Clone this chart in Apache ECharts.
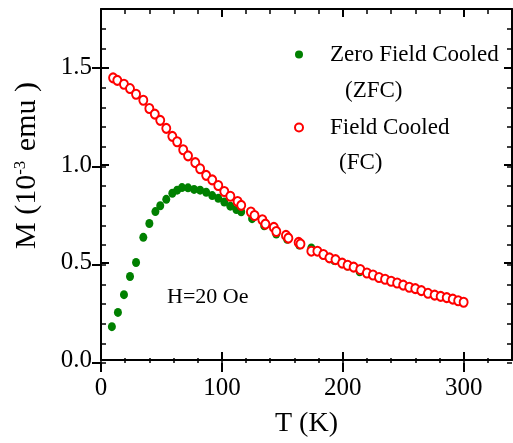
<!DOCTYPE html>
<html><head><meta charset="utf-8">
<script src="https://cdn.jsdelivr.net/npm/echarts@6/dist/echarts.min.js"></script>
<style>html,body{margin:0;padding:0;background:#fff}#c{width:513px;height:443px}</style>
</head><body><div id="c"></div>
<script>
// Zero Field Cooled (ZFC)
const zfcT = [9, 14, 19, 24, 29, 35, 40, 45, 49, 54, 59, 63, 67, 72, 77, 82, 87, 92, 97, 102, 107, 112, 116, 125, 135, 145, 154, 164, 174, 184, 193, 204, 214];
const zfcM = [0.171, 0.244, 0.335, 0.428, 0.500, 0.629, 0.700, 0.761, 0.791, 0.824, 0.855, 0.871, 0.884, 0.883, 0.875, 0.871, 0.860, 0.843, 0.829, 0.810, 0.789, 0.772, 0.760, 0.725, 0.688, 0.646, 0.619, 0.590, 0.575, 0.538, 0.510, 0.482, 0.452];
// Field Cooled (FC)
const fcT = [10, 13.5, 19, 24, 29, 35, 40, 44.5, 49, 54, 59, 63, 68, 72, 78, 82, 87, 92, 97, 102, 107, 113, 116, 124, 127, 133.5, 136, 143, 145, 153, 155, 163.5, 165, 174, 179, 184, 189, 194, 199.5, 204, 209, 214.5, 220, 225, 230, 235, 240, 245, 250, 255, 260, 265, 270.5, 276, 281, 286, 291, 295.5, 300];
const fcM = [1.447, 1.434, 1.414, 1.392, 1.363, 1.332, 1.290, 1.261, 1.229, 1.188, 1.147, 1.119, 1.078, 1.047, 1.012, 0.981, 0.947, 0.924, 0.895, 0.864, 0.840, 0.813, 0.793, 0.759, 0.741, 0.719, 0.697, 0.680, 0.659, 0.639, 0.625, 0.603, 0.595, 0.558, 0.558, 0.541, 0.524, 0.515, 0.497, 0.486, 0.476, 0.464, 0.446, 0.436, 0.423, 0.414, 0.404, 0.395, 0.384, 0.373, 0.366, 0.356, 0.342, 0.333, 0.326, 0.320, 0.312, 0.304, 0.296];
// tick values
const xMajor = [0, 100, 200, 300];
const yMajor = [0, 0.5, 1.0, 1.5];
const xMinor = [0, 20, 40, 60, 80, 100, 120, 140, 160, 180, 200, 220, 240, 260, 280, 300, 320];
const yMinor = [0, 0.1, 0.2, 0.3, 0.4, 0.5, 0.6, 0.7, 0.8, 0.9, 1.0, 1.1, 1.2, 1.3, 1.4, 1.5, 1.6, 1.7];

const FONT = 'Liberation Serif';
const BLACK = '#000';
const gridRect = {left: 101, top: 9, right: 1, bottom: 80};

function xa(grid, pos, opts) {
  return Object.assign({
    gridIndex: grid, type: 'value', min: 0, max: 340, position: pos,
    axisLine: {show: false, onZero: false, lineStyle: {color: BLACK, width: 2}},
    axisTick: {show: false},
    axisLabel: {show: false},
    splitLine: {show: false}
  }, opts);
}
function ya(grid, pos, opts) {
  return Object.assign({
    gridIndex: grid, type: 'value', min: 0, max: 1.8, position: pos,
    axisLine: {show: false, onZero: false, lineStyle: {color: BLACK, width: 2}},
    axisTick: {show: false},
    axisLabel: {show: false},
    splitLine: {show: false}
  }, opts);
}
const tick = (vals, inside, len, w) => ({show: true, inside: inside, length: len, customValues: vals, lineStyle: {color: BLACK, width: w}});
const line = {show: true, onZero: false, lineStyle: {color: BLACK, width: 2}};

const chart = echarts.init(document.getElementById('c'), null, {renderer: 'canvas'});
chart.setOption({
  animation: false,
  backgroundColor: '#fff',
  textStyle: {fontFamily: FONT, color: BLACK},
  grid: [Object.assign({}, gridRect), Object.assign({}, gridRect), Object.assign({}, gridRect)],
  xAxis: [
    xa(0, 'bottom', {
      axisLine: line,
      axisTick: tick(xMajor, true, 8, 2),
      axisLabel: {show: true, customValues: xMajor, fontSize: 25, fontFamily: FONT, color: BLACK, margin: 16},
      name: 'T (K)', nameLocation: 'middle', nameGap: 50,
      nameTextStyle: {fontSize: 28, fontFamily: FONT, color: BLACK}
    }),
    xa(0, 'top', {axisLine: line, axisTick: tick(xMajor, true, 8, 2)}),
    xa(1, 'bottom', {axisTick: tick(xMinor, true, 5, 1.5)}),
    xa(1, 'top', {axisTick: tick(xMinor, true, 5, 1.5)}),
    xa(2, 'bottom', {axisTick: tick(xMajor, false, 9, 2)})
  ],
  yAxis: [
    ya(0, 'left', {
      axisLine: line,
      axisTick: tick(yMajor, true, 8, 2),
      axisLabel: {show: true, customValues: yMajor, fontSize: 25, fontFamily: FONT, color: BLACK, margin: 9,
        formatter: v => v.toFixed(1)},
      name: 'M (10{sup|-3} emu )', nameLocation: 'middle', nameGap: 58,
      nameTextStyle: {fontSize: 30, fontFamily: FONT, color: BLACK, padding: [0, 0, 0, 38],
        rich: {sup: {fontSize: 17, fontFamily: FONT, color: BLACK, padding: [0, 2, 14, 0]}}}
    }),
    ya(0, 'right', {axisLine: line, axisTick: tick(yMajor, true, 8, 2)}),
    ya(1, 'left', {axisTick: tick(yMinor, true, 5, 1.5)}),
    ya(1, 'right', {axisTick: tick(yMinor, true, 5, 1.5)}),
    ya(2, 'left', {axisTick: tick(yMajor, false, 9, 2)})
  ],
  legend: {
    orient: 'vertical', left: 294, top: 43, padding: 0,
    itemWidth: 8, itemHeight: 9, itemGap: 50, selectedMode: false,
    textStyle: {fontSize: 23, fontFamily: FONT, color: BLACK, padding: [0, 0, 0, 22]},
    data: ['Zero Field Cooled', 'Field Cooled']
  },
  graphic: [
    {type: 'text', left: 345, top: 79, style: {text: '(ZFC)', font: '23px "Liberation Serif"', fill: BLACK}},
    {type: 'text', left: 339, top: 151, style: {text: '(FC)', font: '23px "Liberation Serif"', fill: BLACK}},
    {type: 'text', left: 167, top: 286, style: {text: 'H=20 Oe', font: '22px "Liberation Serif"', fill: BLACK}}
  ],
  series: [
    {
      name: 'Zero Field Cooled', type: 'scatter', xAxisIndex: 0, yAxisIndex: 0,
      symbol: 'circle', symbolSize: [8, 9],
      itemStyle: {color: '#008000', opacity: 1},
      data: zfcT.map((t, i) => [t, zfcM[i]])
    },
    {
      name: 'Field Cooled', type: 'scatter', xAxisIndex: 0, yAxisIndex: 0,
      symbol: 'circle', symbolSize: [8, 9],
      itemStyle: {color: '#ffffff', borderColor: '#ff0000', borderWidth: 2, opacity: 1},
      data: fcT.map((t, i) => [t, fcM[i]])
    }
  ]
});
</script>
</body></html>
